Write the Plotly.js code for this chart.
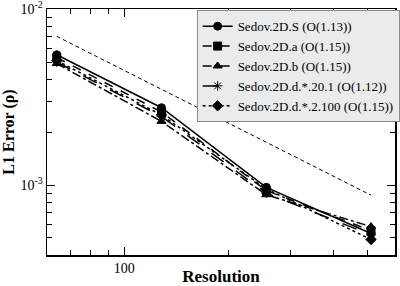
<!DOCTYPE html>
<html>
<head>
<meta charset="utf-8">
<script src="https://cdn.plot.ly/plotly-3.0.1.min.js"></script>
<style>html,body{margin:0;padding:0;background:#fff;}#chart{width:400px;height:286px;}</style>
</head>
<body>
<div id="chart"></div>
<script>
const resolution = [64, 128, 256, 512];
const errS   = [5.5e-3, 2.75e-3, 9.7e-4, 5.3e-4];
const errA   = [5.3e-3, 2.6e-3, 9.3e-4, 5.5e-4];
const errB   = [4.9e-3, 2.3e-3, 8.8e-4, 5.8e-4];
const errD20 = [5.0e-3, 2.45e-3, 9.0e-4, 5.2e-4];
const errD2  = [5.1e-3, 2.5e-3, 9.5e-4, 4.9e-4];
const refX = [64, 512];
const refY = [7.0e-3, 8.75e-4];
const names = ["Sedov.2D.S (O(1.13))", "Sedov.2D.a (O(1.15))", "Sedov.2D.b (O(1.15))",
               "Sedov.2D.d.*.20.1 (O(1.12))", "Sedov.2D.d.*.2.100 (O(1.15))"];
const yMajor = [1e-3, 1e-2];
const yMajorText = ["10<sup>-3</sup>", "10<sup>-2</sup>"];
const yMinor = [4e-4,5e-4,6e-4,7e-4,8e-4,9e-4,2e-3,3e-3,4e-3,5e-3,6e-3,7e-3,8e-3,9e-3];
const xMajor = [100];
const xMajorText = ["100"];
const xMinor = [70,80,90,200,300,400,500];

const series = [errS, errA, errB, errD20, errD2];
const dashes = ["solid", "dash", "dashdot", "longdash", "dot"];
const symbols = ["circle", "square", "triangle-up", "asterisk-open", "diamond"];

const traces = [{
  x: refX, y: refY, mode: "lines", showlegend: false,
  line: {color: "#000", width: 1, dash: "4px,3px"}, hoverinfo: "skip"
}];
series.forEach((s, i) => {
  traces.push({
    x: resolution, y: s, name: names[i], mode: "lines+markers",
    line: {color: "#000", width: 1.5, dash: dashes[i]},
    marker: {symbol: symbols[i], size: 8, color: "#000", line: {color: "#000", width: 1}}
  });
});

const FAM = "Liberation Serif";
const layout = {
  width: 400, height: 286,
  margin: {l: 47, r: 5, t: 9, b: 31, autoexpand: false},
  paper_bgcolor: "#fff", plot_bgcolor: "#fff",
  font: {family: FAM, size: 14, color: "#000"},
  xaxis: {
    type: "log", range: [Math.log10(60), Math.log10(600)], automargin: false,
    showline: true, linecolor: "#000", linewidth: 1.5, mirror: "allticks",
    ticks: "inside", ticklen: 8, tickwidth: 1, tickcolor: "#000",
    tickvals: xMajor, ticktext: xMajorText, showgrid: false, zeroline: false,
    tickfont: {family: FAM, size: 14, color: "#000"}, ticklabeloverflow: "allow",
    minor: {tickvals: xMinor, ticks: "inside", ticklen: 5, tickcolor: "#000", tickwidth: 1, showgrid: false},
    title: {text: "<b>Resolution</b>", font: {family: FAM, size: 17, color: "#000"}, standoff: 6}
  },
  yaxis: {
    type: "log", range: [Math.log10(4e-4), -1.9995], automargin: false,
    showline: true, linecolor: "#000", linewidth: 1.5, mirror: "allticks",
    ticks: "inside", ticklen: 8, tickwidth: 1, tickcolor: "#000",
    tickvals: yMajor, ticktext: yMajorText, showgrid: false, zeroline: false,
    tickfont: {family: FAM, size: 14, color: "#000"}, ticklabeloverflow: "allow",
    minor: {tickvals: yMinor, ticks: "inside", ticklen: 5, tickcolor: "#000", tickwidth: 1, showgrid: false},
    title: {text: "<b>L1 Error (ρ)</b>", font: {family: FAM, size: 16, color: "#000"}, standoff: 2}
  },
  legend: {
    x: 0.43, y: 0.995, xanchor: "left", yanchor: "top",
    bgcolor: "#ebebeb", bordercolor: "#8a8a8a", borderwidth: 1,
    font: {family: FAM, size: 13, color: "#000"}, itemwidth: 30, tracegroupgap: 0
  }
};
Plotly.newPlot("chart", traces, layout, {staticPlot: true, displayModeBar: false});
</script>
</body>
</html>
